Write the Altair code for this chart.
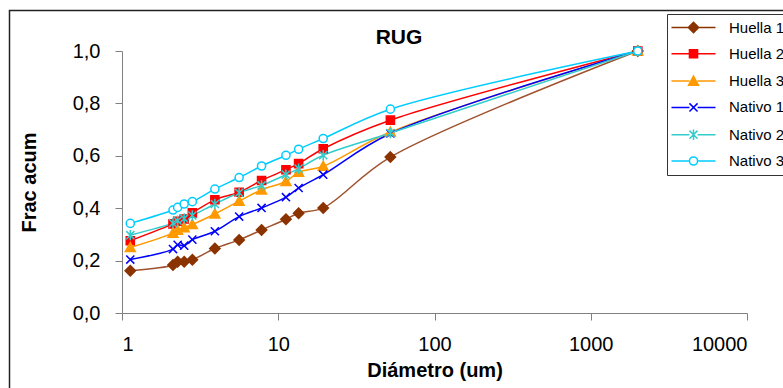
import altair as alt
import pandas as pd

# Particle diameters (um) shared by every sample
diametro = [1.13, 2.12, 2.27, 2.5, 2.82, 3.93, 5.62, 7.82, 11.2, 13.5, 19.4, 52.2, 2000]

series = ["Huella 1", "Huella 2", "Huella 3", "Nativo 1", "Nativo 2", "Nativo 3"]

# Cumulative fraction for each sample
huella_1 = [0.161, 0.183, 0.196, 0.196, 0.203, 0.246, 0.279, 0.317, 0.358, 0.381, 0.401, 0.595, 1.0]
huella_2 = [0.276, 0.340, 0.350, 0.359, 0.382, 0.432, 0.461, 0.506, 0.547, 0.570, 0.627, 0.736, 1.0]
huella_3 = [0.250, 0.305, 0.316, 0.326, 0.338, 0.378, 0.427, 0.470, 0.502, 0.537, 0.560, 0.691, 1.0]
nativo_1 = [0.204, 0.244, 0.260, 0.257, 0.280, 0.312, 0.368, 0.401, 0.442, 0.477, 0.528, 0.685, 1.0]
nativo_2 = [0.297, 0.343, 0.352, 0.361, 0.372, 0.416, 0.459, 0.487, 0.528, 0.551, 0.602, 0.687, 1.0]
nativo_3 = [0.342, 0.393, 0.403, 0.416, 0.425, 0.473, 0.517, 0.561, 0.602, 0.625, 0.666, 0.778, 1.0]

x_ticks = [1, 10, 100, 1000, 10000]
y_ticks = [0, 0.2, 0.4, 0.6, 0.8, 1.0]

rows = []
for name, vals in zip(series, [huella_1, huella_2, huella_3, nativo_1, nativo_2, nativo_3]):
    for d, v in zip(diametro, vals):
        rows.append({"serie": name, "diametro": d, "frac": v})
df = pd.DataFrame(rows)

line_colors = ["#A0522D", "#FF0000", "#FF9900", "#0000FF", "#33CCCC", "#00CCFF"]
marker_stroke = ["#8B3300", "#FF0000", "#FF9900", "#0000FF", "#33CCCC", "#00CCFF"]
marker_fill = ["#8B3300", "#FF0000", "#FF9900", "transparent", "transparent", "white"]


# Marker outlines in symbol unit space, centred on cx
def diamond(cx):
    return f"M{cx},-1.15L{cx + 1.15},0L{cx},1.15L{cx - 1.15},0Z"


def square(cx):
    return f"M{cx - 0.9},-0.9H{cx + 0.9}V0.9H{cx - 0.9}Z"


def triangle(cx):
    return f"M{cx},-1.1L{cx + 1.1},0.9H{cx - 1.1}Z"


def cross(cx):
    return f"M{cx - 0.9},-0.9L{cx + 0.9},0.9M{cx - 0.9},0.9L{cx + 0.9},-0.9"


def star(cx):
    return cross(cx) + f"M{cx},-1.15V1.15"


def ring(cx):
    return f"M{cx + 0.9},0A0.9,0.9 0 1,1 {cx - 0.9},0A0.9,0.9 0 1,1 {cx + 0.9},0Z"


marker_fns = [diamond, square, triangle, cross, star, ring]
marker_paths = [fn(0) for fn in marker_fns]

# Legend swatches: a line segment with the marker in its middle
LEG_L, LEG_R, LEG_C = -2.0, 7.78, 2.89
legend_paths = [
    f"M{LEG_L},0H{LEG_C - 0.9:.2f}M{LEG_C + 0.9:.2f},0H{LEG_R}" + fn(LEG_C) for fn in marker_fns
]

FONT = "Liberation Sans"

x_enc = alt.X(
    "diametro:Q",
    scale=alt.Scale(type="log", domain=[1, 10000], nice=False),
    axis=alt.Axis(
        values=x_ticks,
        labelExpr="format(datum.value, 'd')",
        title="Diámetro (um)",
        titleFont=FONT,
        titleFontSize=20,
        titleFontWeight="bold",
        titleBaseline="alphabetic",
        titleY=63,
        labelPadding=14,
    ),
)
y_enc = alt.Y(
    "frac:Q",
    scale=alt.Scale(domain=[0, 1], nice=False),
    axis=alt.Axis(
        values=y_ticks,
        labelExpr="replace(format(datum.value, '.1f'), '.', ',')",
        title="Frac acum",
        titleFont=FONT,
        titleFontSize=20,
        titleFontWeight="bold",
        titleAngle=270,
        titleBaseline="alphabetic",
        titleAlign="center",
        titleX=-87,
        titleY=131,
        labelPadding=15,
    ),
)

base = alt.Chart(df)
single = alt.Chart(pd.DataFrame({"k": [0]}))

# Outer frame around the whole figure
frame = single.mark_rect(fill=None, stroke="#222222", strokeWidth=1.5).encode(
    x=alt.value(-112.5), x2=alt.value(700), y=alt.value(-40.5), y2=alt.value(400)
)

heading = single.mark_text(
    text="RUG", font=FONT, fontSize=21, fontWeight="bold", color="black",
    align="center", baseline="alphabetic",
).encode(x=alt.value(277), y=alt.value(-7))

lines = base.mark_line(interpolate="catmull-rom", strokeWidth=1.5).encode(
    x=x_enc,
    y=y_enc,
    color=alt.Color("serie:N", scale=alt.Scale(domain=series, range=line_colors), legend=None),
)

points = base.mark_point(size=81, strokeWidth=1.5, opacity=1, filled=True).encode(
    x=x_enc,
    y=y_enc,
    shape=alt.Shape("serie:N", scale=alt.Scale(domain=series, range=marker_paths), legend=None),
    stroke=alt.Stroke("serie:N", scale=alt.Scale(domain=series, range=marker_stroke), legend=None),
    fill=alt.Fill("serie:N", scale=alt.Scale(domain=series, range=marker_fill), legend=None),
)

leg = alt.Legend(
    orient="none",
    legendX=545,
    legendY=-37,
    title=None,
    strokeColor="#333333",
    fillColor="white",
    padding=6,
    rowPadding=10.3,
    labelFont=FONT,
    labelFontSize=15,
    labelColor="black",
    labelOffset=41,
    symbolStrokeWidth=1.5,
    symbolSize=81,
    symbolFillColor="white",
    symbolStrokeColor="black",
)

legend_layer = base.mark_point(size=81, strokeWidth=1.5, opacity=0, filled=True).encode(
    x=x_enc,
    y=y_enc,
    shape=alt.Shape("serie:N", scale=alt.Scale(domain=series, range=legend_paths), legend=leg),
    stroke=alt.Stroke("serie:N", scale=alt.Scale(domain=series, range=marker_stroke), legend=leg),
    fill=alt.Fill("serie:N", scale=alt.Scale(domain=series, range=marker_fill), legend=leg),
)

chart = (
    alt.layer(frame, heading, lines, points, legend_layer)
    .resolve_scale(color="independent", shape="independent", stroke="independent", fill="independent")
    .properties(
        width=625,
        height=262,
        autosize=alt.AutoSizeParams(type="none"),
        padding={"left": 122, "top": 51, "right": 36, "bottom": 75},
        background="white",
    )
    .configure_view(stroke=None)
    .configure_axis(
        grid=False,
        domainColor="#808080",
        tickColor="#808080",
        tickSize=7,
        labelFont=FONT,
        labelFontSize=20,
        labelColor="black",
        titleColor="black",
    )
)

chart.save("out.html", embed_options={"renderer": "svg", "actions": False})
